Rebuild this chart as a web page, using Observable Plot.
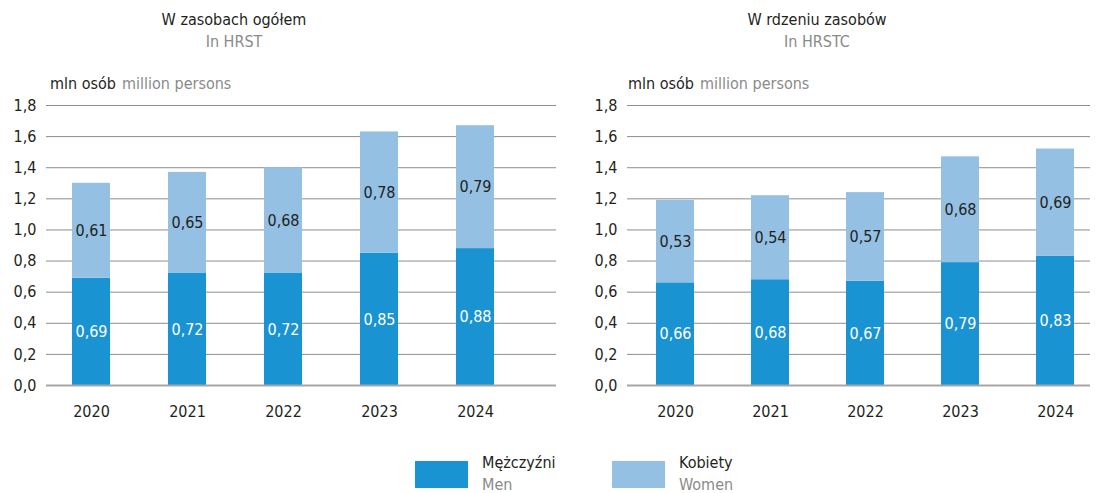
<!DOCTYPE html>
<html><head><meta charset="utf-8">
<script src="https://cdn.jsdelivr.net/npm/d3@7"></script>
<script src="https://cdn.jsdelivr.net/npm/@observablehq/plot@0.6"></script>
<style>
body{margin:0;background:#fff;}
#wrap{position:relative;width:1104px;height:493px;font-family:"Liberation Sans Narrow","DejaVu Sans Condensed","Roboto",sans-serif;color:#231f20;}
.abs{position:absolute;white-space:nowrap;}
.title{font-size:16px;text-align:center;width:300px;}
.sub{font-size:16px;color:#8a8a8a;text-align:center;width:300px;}
.ylab{font-size:16px;}
.ylab span{color:#8a8a8a;margin-left:6px;}
.sw{position:absolute;width:53px;height:27px;}
.lt{font-size:16px;line-height:22px;}
.lt .g{color:#8a8a8a;}
</style></head>
<body><div id="wrap"></div>
<script>
const years = ["2020","2021","2022","2023","2024"];
const hrstMen = [0.69,0.72,0.72,0.85,0.88];
const hrstWomen = [0.61,0.65,0.68,0.78,0.79];
const hrstcMen = [0.66,0.68,0.67,0.79,0.83];
const hrstcWomen = [0.53,0.54,0.57,0.68,0.69];
const yTicks = [0,0.2,0.4,0.6,0.8,1.0,1.2,1.4,1.6,1.8];
const seriesNames = ["Mężczyźni","Kobiety"];
const seriesNamesEn = ["Men","Women"];
const colors = ["#1a93d2","#94c0e4"];
const panelTitles = ["W zasobach ogółem","W rdzeniu zasobów"];
const panelSubs = ["In HRST","In HRSTC"];

const fmt = d => d.toFixed(2).replace(".", ",");
const wrap = document.getElementById("wrap");
const FONT = '"Liberation Sans Narrow","DejaVu Sans Condensed",sans-serif';

function panel(men, women, left, width, mL, mR, range){
  const data = [];
  years.forEach((y,i)=>{
    data.push({year:y, s:seriesNames[0], v:men[i], y1:men[i]/2});
    data.push({year:y, s:seriesNames[1], v:women[i], y1:men[i]+women[i]/2});
  });
  const p = Plot.plot({
    width, height:335, marginLeft:mL, marginRight:mR, marginTop:10, marginBottom:45,
    style:{fontFamily:FONT, fontSize:"16px", color:"#231f20", background:"transparent"},
    x:{domain:years, range, paddingInner:0.6, paddingOuter:0.3, label:null},
    y:{domain:[0,1.8], label:null},
    color:{domain:seriesNames, range:colors},
    marks:[
      Plot.ruleY(yTicks.filter(d=>d>0), {stroke:"#8c8c8c", strokeWidth:1}),
      Plot.barY(data, {x:"year", y:"v", fill:"s", order:seriesNames}),
      Plot.ruleY([0], {stroke:"#a6a6a6", strokeWidth:2}),
      Plot.text(data, {x:"year", y:"y1", text:d=>fmt(d.v), fill:d=>d.s===seriesNames[0]?"#ffffff":"#231f20", fontSize:16}),
      Plot.axisY({ticks:yTicks, tickSize:0, tickPadding:10, tickFormat:d=>d.toFixed(1).replace(".", ","), fontSize:16}),
      Plot.axisX({tickSize:0, tickPadding:20, fontSize:16})
    ]
  });
  p.style.position="absolute"; p.style.left=left+"px"; p.style.top="95px";
  wrap.appendChild(p);
}
panel(hrstMen, hrstWomen, 0, 560, 46, 4, [42, 524.5]);
panel(hrstcMen, hrstcWomen, 580, 520, 47, 10, [46, 525]);

function addText(cls, html, x, y){
  const d=document.createElement("div"); d.className="abs "+cls; d.innerHTML=html;
  d.style.left=x+"px"; d.style.top=y+"px"; wrap.appendChild(d); return d;
}
addText("title", panelTitles[0], 84, 10);
addText("sub", panelSubs[0], 84, 32);
addText("title", panelTitles[1], 667, 10);
addText("sub", panelSubs[1], 667, 32);
addText("ylab", "mln osób<span>million persons</span>", 50, 74);
addText("ylab", "mln osób<span>million persons</span>", 628, 74);

const lx=[415,612];
seriesNames.forEach((n,i)=>{
  const s=document.createElement("div"); s.className="sw"; s.style.left=lx[i]+"px"; s.style.top="461px"; s.style.background=colors[i]; wrap.appendChild(s);
  addText("lt", n+'<br><span class="g">'+seriesNamesEn[i]+'</span>', lx[i]+67, 452);
});
</script></body></html>
